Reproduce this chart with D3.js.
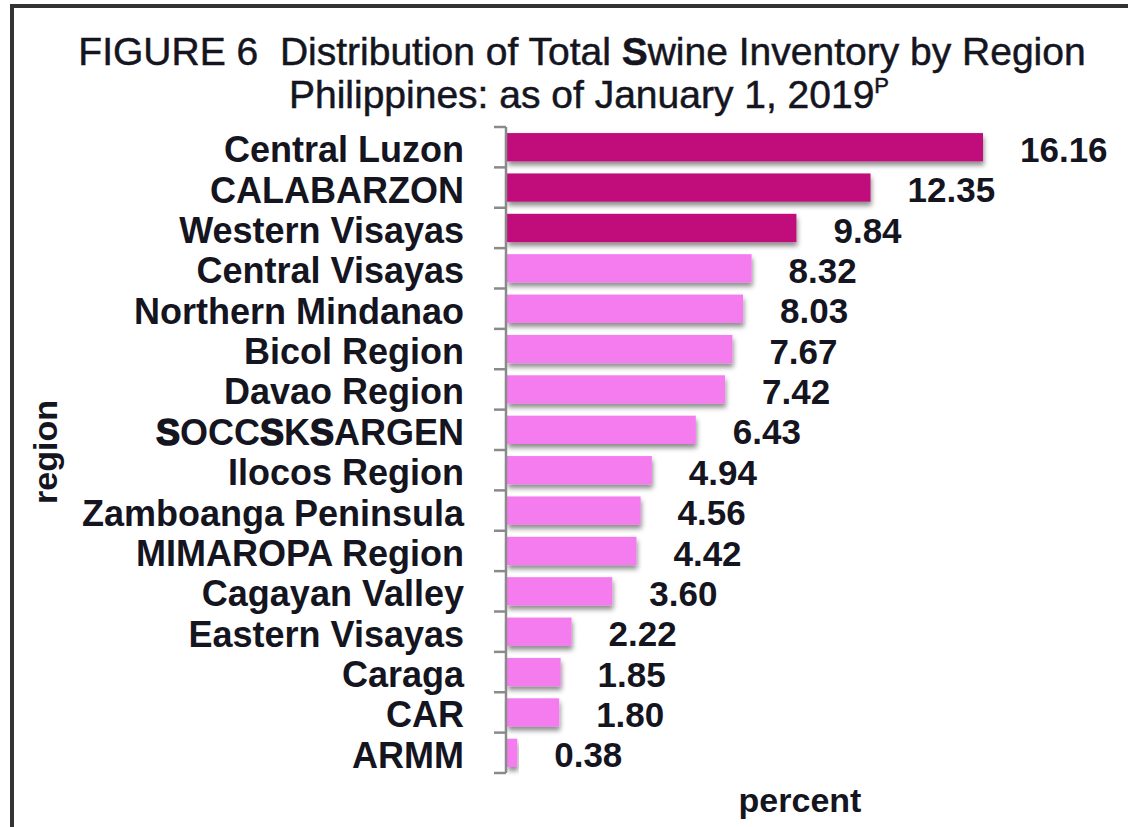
<!DOCTYPE html>
<html>
<head>
<meta charset="utf-8">
<script src="https://cdn.jsdelivr.net/npm/d3@7"></script>
<style>
  html, body { margin: 0; padding: 0; background: #fff; }
  svg { display: block; font-family: "Liberation Sans", Arial, sans-serif; }
</style>
</head>
<body>
<svg id="chart" width="1128" height="827"></svg>
<script>
// data (percent of total swine inventory)
const regions = [
    "Central Luzon", "CALABARZON", "Western Visayas", "Central Visayas",
    "Northern Mindanao", "Bicol Region", "Davao Region", "SOCCSKSARGEN",
    "Ilocos Region", "Zamboanga Peninsula", "MIMAROPA Region", "Cagayan Valley",
    "Eastern Visayas", "Caraga", "CAR", "ARMM"
];
const shares = [16.16, 12.35, 9.84, 8.32, 8.03, 7.67, 7.42, 6.43,
    4.94, 4.56, 4.42, 3.60, 2.22, 1.85, 1.80, 0.38];
const topRegions = ["Central Luzon", "CALABARZON", "Western Visayas"];

const width = 1128, height = 827;
const svg = d3.select("#chart");
const textColor = "#15151f";

// frame
svg.append("path")
    .attr("d", `M12,${height + 5} L12,6 L${width + 5},6`)
    .attr("fill", "none")
    .attr("stroke", "#333")
    .attr("stroke-width", 4);

// drop shadow for bars
const defs = svg.append("defs");
defs.append("filter")
    .attr("id", "shadow")
    .attr("x", "-5%").attr("y", "-20%")
    .attr("width", "115%").attr("height", "160%")
    .append("feDropShadow")
    .attr("dx", 1).attr("dy", 4)
    .attr("stdDeviation", 2.5)
    .attr("flood-color", "#000")
    .attr("flood-opacity", 0.45);

// scales
const axisX = 506;
const x = d3.scaleLinear()
    .domain([0, 16.16])
    .range([axisX, 983]);

const y = d3.scaleBand()
    .domain(regions)
    .range([127, 773])
    .paddingInner(0.3)
    .paddingOuter(0.15);

const ySlot = d3.scaleBand()
    .domain(regions)
    .range([127, 773])
    .padding(0);

// title
const title = svg.append("text")
    .attr("x", 582)
    .attr("y", 65)
    .attr("text-anchor", "middle")
    .attr("font-size", 39)
    .attr("fill", textColor)
    .attr("stroke", textColor)
    .attr("stroke-width", 0.5);
title.append("tspan").text("FIGURE 6\u00a0 Distribution of Total ");
title.append("tspan").attr("font-weight", "bold").text("S");
title.append("tspan").text("wine Inventory by Region");

const sub = svg.append("text")
    .attr("x", 589)
    .attr("y", 108)
    .attr("text-anchor", "middle")
    .attr("font-size", 39)
    .attr("fill", textColor)
    .attr("stroke", textColor)
    .attr("stroke-width", 0.5);
sub.append("tspan").text("Philippines: as of January 1, 2019");
sub.append("tspan").attr("font-size", 22).attr("dy", -15).text("P");

// bars
svg.append("g")
    .selectAll("rect")
    .data(regions)
    .join("rect")
    .attr("x", axisX + 1)
    .attr("y", d => y(d))
    .attr("width", (d, i) => x(shares[i]) - axisX - 1)
    .attr("height", y.bandwidth())
    .attr("fill", d => topRegions.includes(d) ? "#c1117b" : "#f57bee")
    .attr("filter", "url(#shadow)");

// value labels
svg.append("g")
    .selectAll("text")
    .data(regions)
    .join("text")
    .attr("x", (d, i) => x(shares[i]) + 37)
    .attr("y", d => y(d) + y.bandwidth() / 2 + 2)
    .attr("dy", "0.36em")
    .attr("font-size", 35)
    .attr("font-weight", "bold")
    .attr("fill", textColor)
    .text((d, i) => shares[i].toFixed(2));

// axis line and ticks between categories
const axis = svg.append("g")
    .attr("stroke", "#8a8a8a")
    .attr("stroke-width", 2.5);
axis.append("line")
    .attr("x1", axisX).attr("x2", axisX)
    .attr("y1", ySlot.range()[0]).attr("y2", ySlot.range()[1]);
const tickYs = regions.map(d => ySlot(d)).concat([ySlot.range()[1]]);
axis.selectAll("line.tick")
    .data(tickYs)
    .join("line")
    .attr("class", "tick")
    .attr("x1", axisX - 12).attr("x2", axisX)
    .attr("y1", d => d).attr("y2", d => d);

// category labels
const labels = svg.append("g")
    .selectAll("text")
    .data(regions)
    .join("text")
    .attr("x", 464)
    .attr("y", d => ySlot(d) + ySlot.bandwidth() / 2 + 2)
    .attr("dy", "0.36em")
    .attr("text-anchor", "end")
    .attr("font-size", 36)
    .attr("font-weight", "bold")
    .attr("fill", textColor);

labels.each(function(d) {
    const t = d3.select(this);
    if (d === "SOCCSKSARGEN") {
        // a few letters are heavier in the original
        [...d].forEach((ch, i) => {
            const span = t.append("tspan").text(ch);
            if (i === 0 || i === 4 || i === 6) span.attr("stroke", textColor).attr("stroke-width", 1.5);
        });
    } else {
        t.text(d);
    }
});

// axis titles
svg.append("text")
    .attr("transform", "translate(57,452) rotate(-90)")
    .attr("text-anchor", "middle")
    .attr("font-size", 34)
    .attr("font-weight", "bold")
    .attr("fill", textColor)
    .text("region");

svg.append("text")
    .attr("x", 800)
    .attr("y", 812)
    .attr("text-anchor", "middle")
    .attr("font-size", 34)
    .attr("font-weight", "bold")
    .attr("fill", textColor)
    .text("percent");
</script>
</body>
</html>
